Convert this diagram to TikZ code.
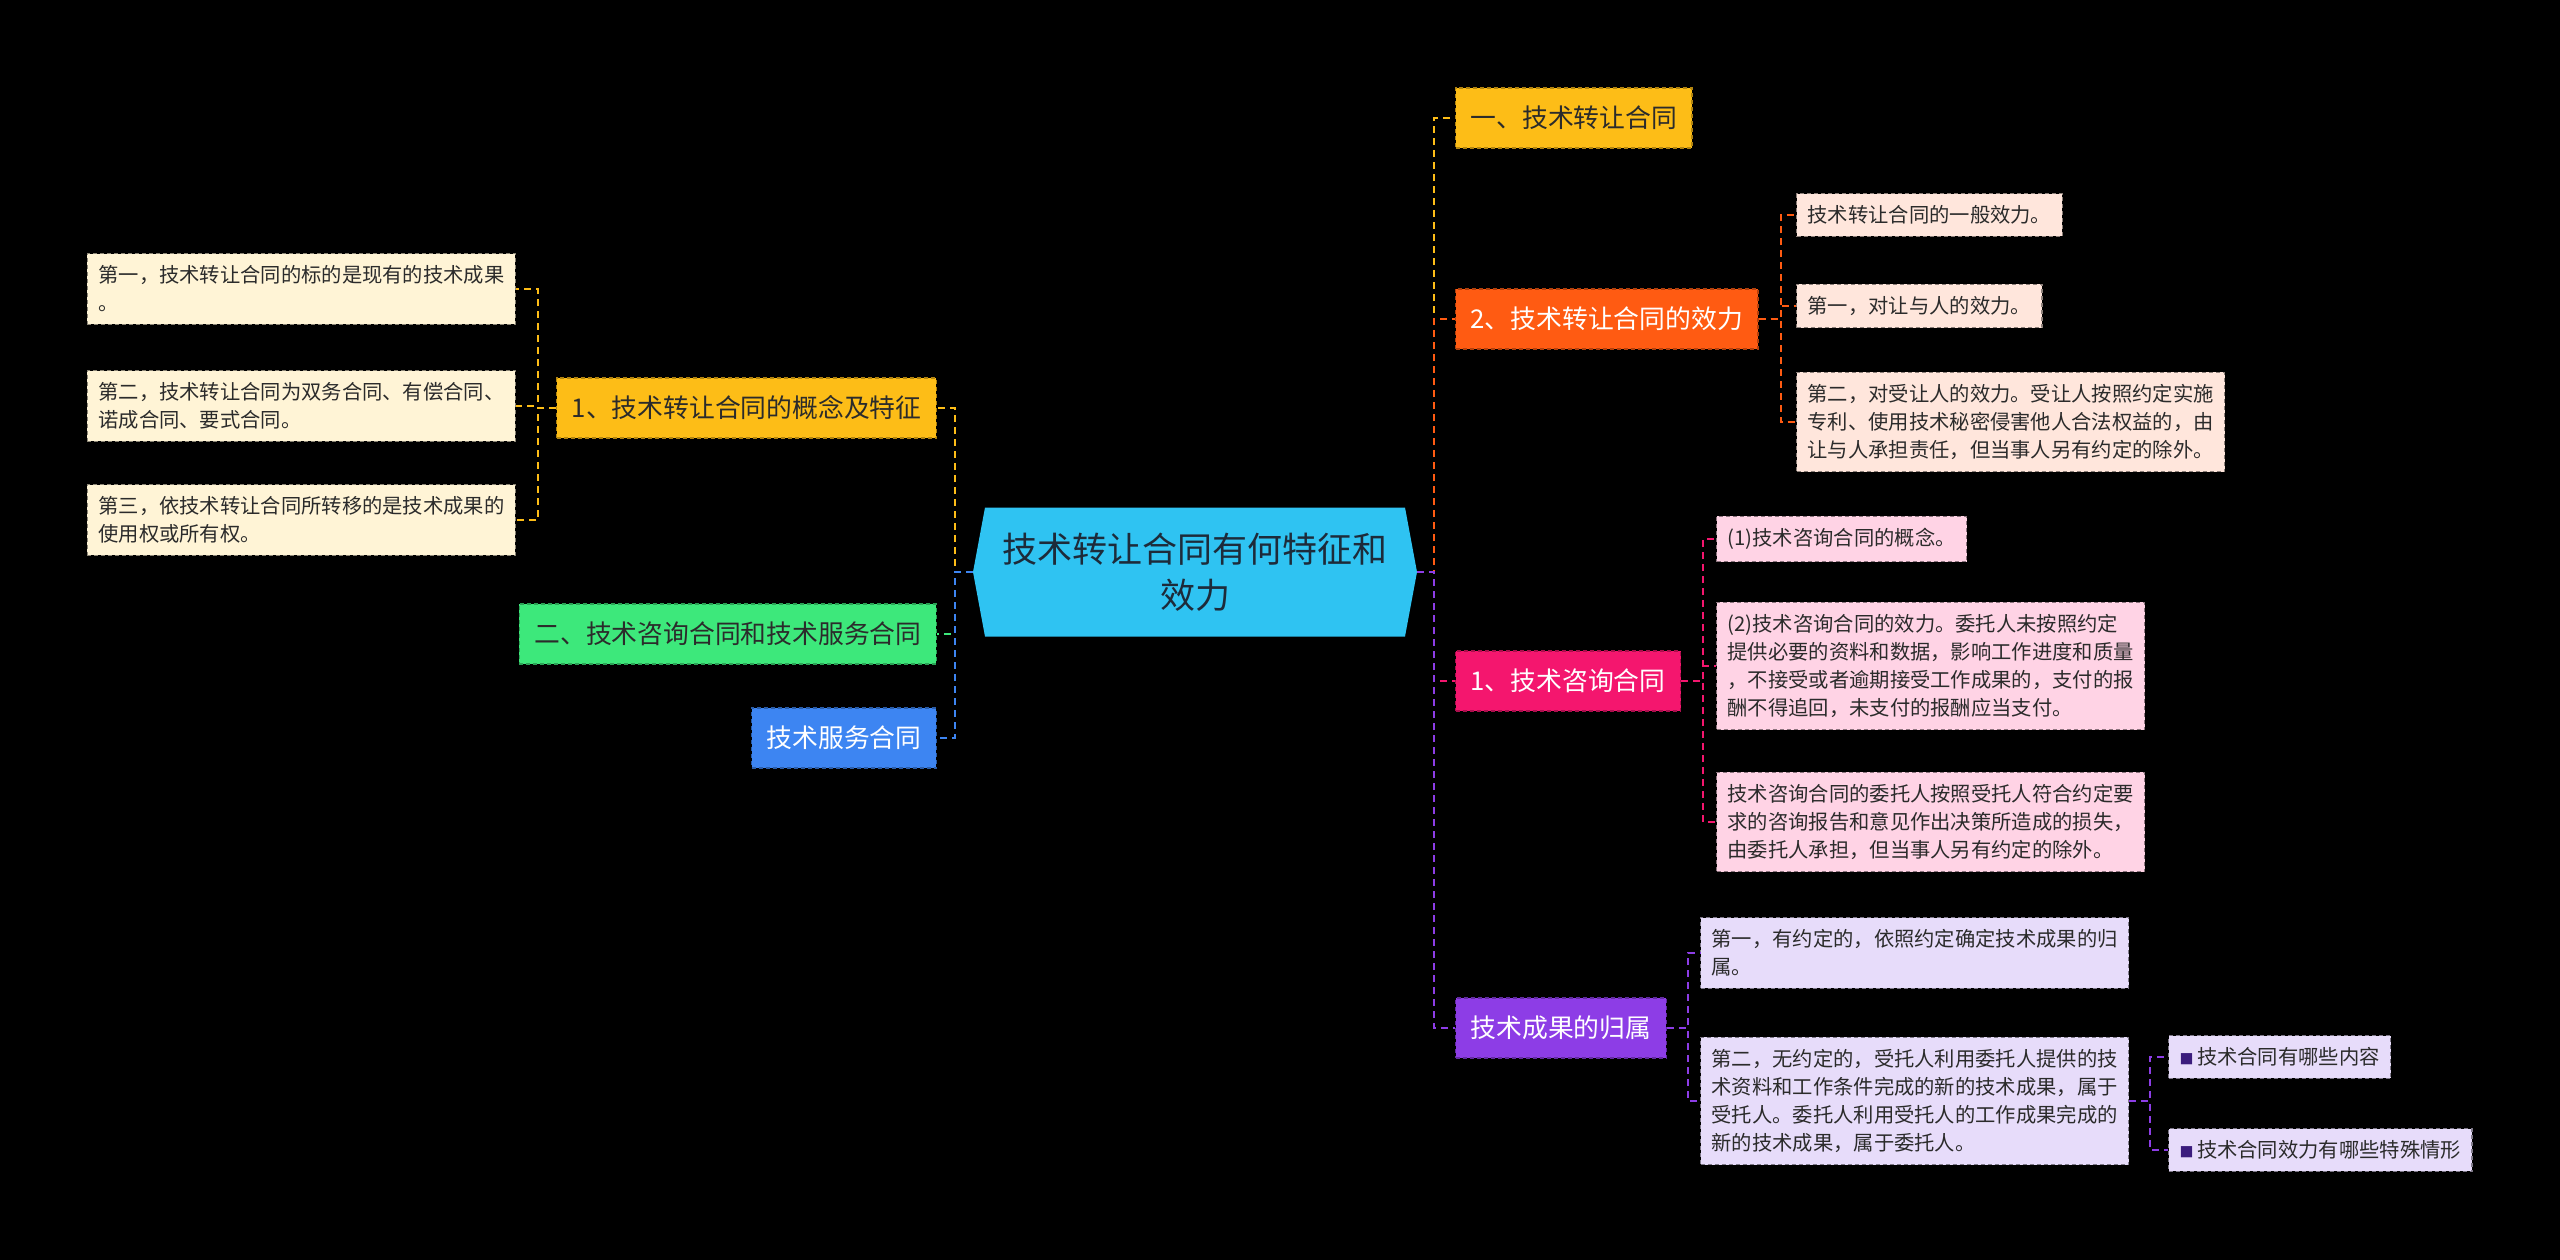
\documentclass[tikz,border=0pt]{standalone}
\usepackage{fontspec}
\setmainfont{Noto Sans CJK SC}
\usepackage{xcolor}
\usepackage{tikz}
\usetikzlibrary{calc}
\definecolor{hubblue}{HTML}{2FC3F2}
\definecolor{hubtext}{HTML}{1D2B3A}
\definecolor{darktext}{HTML}{2B2B2B}
\definecolor{bulletpurple}{HTML}{3B1C7D}
\definecolor{topyellow}{HTML}{FDBD17}
\definecolor{toporange}{HTML}{FF5B12}
\definecolor{topmagenta}{HTML}{F4166E}
\definecolor{toppurple}{HTML}{8D3DE6}
\definecolor{topgreen}{HTML}{3DE87B}
\definecolor{topblue}{HTML}{3D85F2}
\definecolor{leafcream}{HTML}{FFF4D6}
\definecolor{leafpeach}{HTML}{FFE6DC}
\definecolor{leafpink}{HTML}{FFD3E5}
\definecolor{leaflilac}{HTML}{E7DCFA}

\begin{document}
\begin{tikzpicture}[x=1pt,y=-1pt,
    hubnode/.style={fill=black, minimum width=444, minimum height=129,
      inner sep=0pt, align=center, text=hubtext,
      font=\fontsize{35}{46}\selectfont,
      path picture={\fill[hubblue]
        ($(path picture bounding box.north west)+(12,0)$) --
        ($(path picture bounding box.north east)+(-12,0)$) --
        (path picture bounding box.east) --
        ($(path picture bounding box.south east)+(-12,0)$) --
        ($(path picture bounding box.south west)+(12,0)$) --
        (path picture bounding box.west) -- cycle;}},
    topicnode/.style={fill=#1, draw=#1!70!black, dash pattern=on 4pt off 3pt,
      line width=1.2pt, minimum height=60, inner xsep=15, inner ysep=0pt,
      font=\fontsize{25.8}{30}\selectfont},
    leafnode/.style={fill=#1, draw=#1!55!black, dash pattern=on 4pt off 3pt,
      line width=1.2pt, align=left, inner xsep=11, inner ysep=12,
      text=darktext, font=\fontsize{20.3}{28}\selectfont},
    linkline/.style={#1, dash pattern=on 7pt off 5pt, line width=2pt}]
        % Background
        \useasboundingbox (0,0) rectangle (2560,1259);
        \fill[black] (-6,-6) rectangle (2566,1265);
        % Central topic
        \node[hubnode] (hub) at (1195,572) {技术转让合同有何特征和\\效力};
        % Left topics
        \node[topicnode=topyellow, text=darktext, anchor=east] (concept) at (937,408) {1、技术转让合同的概念及特征};
        \node[topicnode=topgreen, text=darktext, anchor=east] (consult) at (937,634) {二、技术咨询合同和技术服务合同};
        \node[topicnode=topblue, text=white, anchor=east] (service) at (937,738) {技术服务合同};
        % Leaves of the concept topic
        \node[leafnode=leafcream, anchor=east] (conceptA) at (516,289) {第一，技术转让合同的标的是现有的技术成果\\。};
        \node[leafnode=leafcream, anchor=east] (conceptB) at (516,406) {第二，技术转让合同为双务合同、有偿合同、\\诺成合同、要式合同。};
        \node[leafnode=leafcream, anchor=east] (conceptC) at (516,520) {第三，依技术转让合同所转移的是技术成果的\\使用权或所有权。};
        % Right topics
        \node[topicnode=topyellow, text=darktext, anchor=west] (transfer) at (1455,118) {一、技术转让合同};
        \node[topicnode=toporange, text=white, anchor=west] (effect) at (1455,319) {2、技术转让合同的效力};
        \node[topicnode=topmagenta, text=white, anchor=west] (advice) at (1455,681) {1、技术咨询合同};
        \node[topicnode=toppurple, text=white, anchor=west] (owner) at (1455,1028) {技术成果的归属};
        % Leaves of the effect topic
        \node[leafnode=leafpeach, anchor=west] (effectA) at (1796,215) {技术转让合同的一般效力。};
        \node[leafnode=leafpeach, anchor=west] (effectB) at (1796,306) {第一，对让与人的效力。};
        \node[leafnode=leafpeach, anchor=west] (effectC) at (1796,422) {第二，对受让人的效力。受让人按照约定实施\\专利、使用技术秘密侵害他人合法权益的，由\\让与人承担责任，但当事人另有约定的除外。};
        % Leaves of the advice topic
        \node[leafnode=leafpink, anchor=west] (adviceA) at (1716,539) {(1)技术咨询合同的概念。};
        \node[leafnode=leafpink, anchor=west] (adviceB) at (1716,666) {(2)技术咨询合同的效力。委托人未按照约定\\提供必要的资料和数据，影响工作进度和质量\\，不接受或者逾期接受工作成果的，支付的报\\酬不得追回，未支付的报酬应当支付。};
        \node[leafnode=leafpink, anchor=west] (adviceC) at (1716,822) {技术咨询合同的委托人按照受托人符合约定要\\求的咨询报告和意见作出决策所造成的损失，\\由委托人承担，但当事人另有约定的除外。};
        % Leaves of the owner topic
        \node[leafnode=leaflilac, anchor=west] (ownerA) at (1700,953) {第一，有约定的，依照约定确定技术成果的归\\属。};
        \node[leafnode=leaflilac, anchor=west] (ownerB) at (1700,1101) {第二，无约定的，受托人利用委托人提供的技\\术资料和工作条件完成的新的技术成果，属于\\受托人。委托人利用受托人的工作成果完成的\\新的技术成果，属于委托人。};
        % Related links
        \node[leafnode=leaflilac, anchor=west] (relatedA) at (2168,1057) {{\color{bulletpurple}\fontsize{14}{14}\selectfont ■}\,技术合同有哪些内容};
        \node[leafnode=leaflilac, anchor=west] (relatedB) at (2168,1150) {{\color{bulletpurple}\fontsize{14}{14}\selectfont ■}\,技术合同效力有哪些特殊情形};
        % Links from the central topic
        \draw[linkline=topyellow] (hub.east) -- ++(17,0) |- (transfer.west);
        \draw[linkline=toporange] (hub.east) -- ++(17,0) |- (effect.west);
        \draw[linkline=topmagenta] (hub.east) -- ++(17,0) |- (advice.west);
        \draw[linkline=toppurple] (hub.east) -- ++(17,0) |- (owner.west);
        \draw[linkline=topyellow] (hub.west) -- ++(-18,0) |- (concept.east);
        \draw[linkline=topgreen] (hub.west) -- ++(-18,0) |- (consult.east);
        \draw[linkline=topblue] (hub.west) -- ++(-18,0) |- (service.east);
        % Links to the leaves
        \draw[linkline=topyellow] (concept.west) -- ++(-18,0) |- (conceptA.east);
        \draw[linkline=topyellow] (concept.west) -- ++(-18,0) |- (conceptB.east);
        \draw[linkline=topyellow] (concept.west) -- ++(-18,0) |- (conceptC.east);
        \draw[linkline=toporange] (effect.east) -- ++(22,0) |- (effectA.west);
        \draw[linkline=toporange] (effect.east) -- ++(22,0) |- (effectB.west);
        \draw[linkline=toporange] (effect.east) -- ++(22,0) |- (effectC.west);
        \draw[linkline=topmagenta] (advice.east) -- ++(22,0) |- (adviceA.west);
        \draw[linkline=topmagenta] (advice.east) -- ++(22,0) |- (adviceB.west);
        \draw[linkline=topmagenta] (advice.east) -- ++(22,0) |- (adviceC.west);
        \draw[linkline=toppurple] (owner.east) -- ++(21,0) |- (ownerA.west);
        \draw[linkline=toppurple] (owner.east) -- ++(21,0) |- (ownerB.west);
        \draw[linkline=toppurple] (ownerB.east) -- ++(21,0) |- (relatedA.west);
        \draw[linkline=toppurple] (ownerB.east) -- ++(21,0) |- (relatedB.west);
      \end{tikzpicture}
\end{document}
